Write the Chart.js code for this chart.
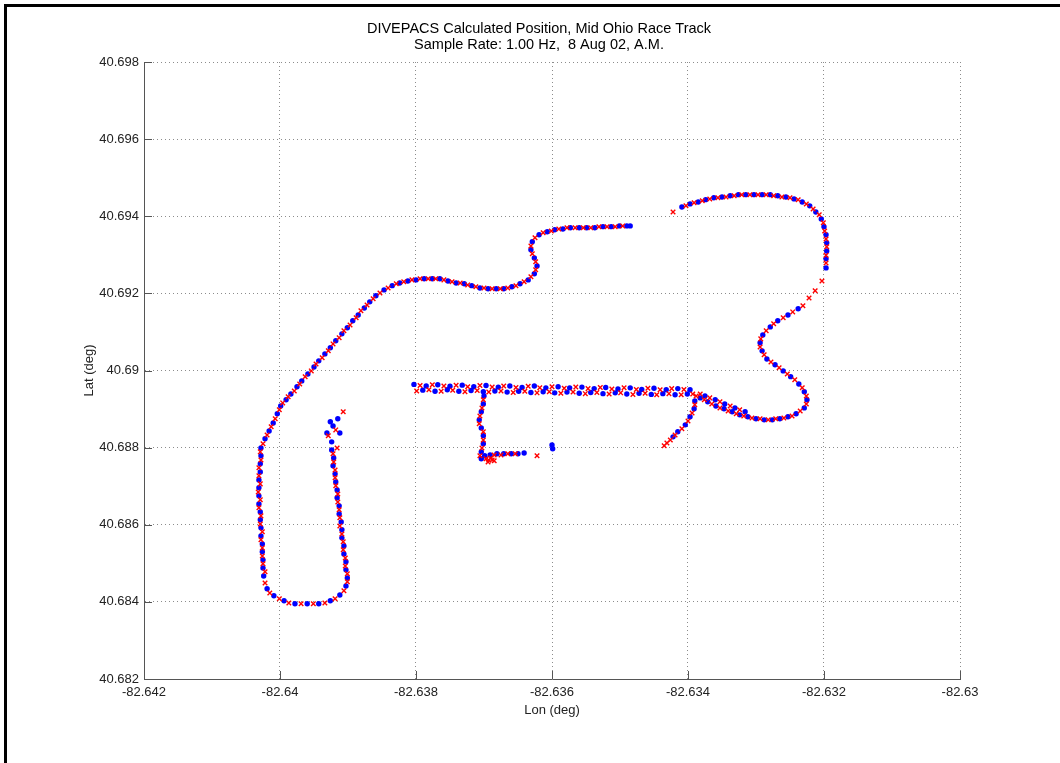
<!DOCTYPE html>
<html>
<head>
<meta charset="utf-8">
<title>DIVEPACS Calculated Position</title>
<script src="https://cdn.jsdelivr.net/npm/chart.js@4.4.1/dist/chart.umd.min.js"></script>
<style>
  html, body { margin: 0; padding: 0; background: #fff; }
  canvas { display: block; }
</style>
</head>
<body>
<canvas id="track" width="1060" height="763"></canvas>
<script>
// Titles and axis labels
const titleLines = ["DIVEPACS Calculated Position, Mid Ohio Race Track", "Sample Rate: 1.00 Hz,  8 Aug 02, A.M."];
const xLabel = "Lon (deg)";
const yLabel = "Lat (deg)";

// Tick values
const lonTicks = [-82.642, -82.64, -82.638, -82.636, -82.634, -82.632, -82.63];
const latTicks = [40.682, 40.684, 40.686, 40.688, 40.69, 40.692, 40.694, 40.696, 40.698];

// Blue fixes [lon, lat]
const blueWest = [
  [-82.63926, 40.68867], [-82.63922, 40.68856], [-82.63915, 40.68875], [-82.63931, 40.68838], [-82.63912, 40.68838], [-82.63924, 40.68815],
  [-82.63924, 40.68794], [-82.63921, 40.68773], [-82.63922, 40.68753], [-82.63919, 40.68732], [-82.63918, 40.68711], [-82.63916, 40.68690],
  [-82.63916, 40.68670], [-82.63913, 40.68649], [-82.63913, 40.68628], [-82.63910, 40.68607], [-82.63909, 40.68587], [-82.63909, 40.68566],
  [-82.63906, 40.68545], [-82.63906, 40.68524], [-82.63903, 40.68504], [-82.63903, 40.68483], [-82.63901, 40.68462],
  [-82.63903, 40.68441], [-82.63912, 40.68418], [-82.63926, 40.68403], [-82.63943, 40.68395], [-82.63960, 40.68395], [-82.63978, 40.68395],
  [-82.63994, 40.68403], [-82.64009, 40.68416], [-82.64019, 40.68434],
  [-82.64024, 40.68467], [-82.64025, 40.68488], [-82.64025, 40.68509], [-82.64026, 40.68530], [-82.64026, 40.68550], [-82.64028, 40.68571],
  [-82.64028, 40.68592], [-82.64029, 40.68613], [-82.64029, 40.68633], [-82.64031, 40.68654], [-82.64031, 40.68675], [-82.64031, 40.68696],
  [-82.64031, 40.68716], [-82.64029, 40.68737], [-82.64029, 40.68758], [-82.64028, 40.68779], [-82.64028, 40.68799],
  [-82.64022, 40.68823], [-82.64016, 40.68843], [-82.64010, 40.68864], [-82.64004, 40.68888], [-82.63999, 40.68908], [-82.63991, 40.68924],
  [-82.63984, 40.68939], [-82.63975, 40.68958], [-82.63968, 40.68973], [-82.63959, 40.68991], [-82.63950, 40.69009], [-82.63943, 40.69025],
  [-82.63934, 40.69043], [-82.63926, 40.69059], [-82.63918, 40.69077], [-82.63909, 40.69095], [-82.63901, 40.69111], [-82.63893, 40.69129],
  [-82.63885, 40.69144], [-82.63876, 40.69162], [-82.63868, 40.69178], [-82.63859, 40.69194], [-82.63847, 40.69209], [-82.63835, 40.69220],
  [-82.63824, 40.69227], [-82.63812, 40.69232], [-82.63800, 40.69235], [-82.63788, 40.69238], [-82.63776, 40.69238], [-82.63765, 40.69238],
  [-82.63753, 40.69232], [-82.63741, 40.69227], [-82.63729, 40.69225], [-82.63718, 40.69220], [-82.63706, 40.69214], [-82.63694, 40.69212],
  [-82.63682, 40.69212], [-82.63671, 40.69212], [-82.63659, 40.69217], [-82.63647, 40.69225], [-82.63635, 40.69235], [-82.63626, 40.69251],
  [-82.63622, 40.69271], [-82.63626, 40.69292], [-82.63631, 40.69313], [-82.63629, 40.69334], [-82.63619, 40.69352], [-82.63607, 40.69360],
  [-82.63596, 40.69365], [-82.63584, 40.69367], [-82.63573, 40.69370], [-82.63560, 40.69370], [-82.63549, 40.69370], [-82.63537, 40.69370],
  [-82.63525, 40.69373], [-82.63513, 40.69373], [-82.63501, 40.69375], [-82.63490, 40.69375], [-82.63485, 40.69375]
];
const blueEast = [
  [-82.63409, 40.69424], [-82.63397, 40.69432], [-82.63385, 40.69437], [-82.63374, 40.69443], [-82.63362, 40.69448], [-82.63350, 40.69450],
  [-82.63338, 40.69453], [-82.63326, 40.69456], [-82.63315, 40.69456], [-82.63303, 40.69456], [-82.63291, 40.69456], [-82.63279, 40.69456],
  [-82.63268, 40.69453], [-82.63256, 40.69450], [-82.63244, 40.69445], [-82.63232, 40.69437], [-82.63221, 40.69427], [-82.63212, 40.69411],
  [-82.63204, 40.69393], [-82.63200, 40.69373], [-82.63197, 40.69352], [-82.63196, 40.69331], [-82.63196, 40.69310], [-82.63197, 40.69290],
  [-82.63197, 40.69266],
  [-82.63238, 40.69160], [-82.63253, 40.69144], [-82.63268, 40.69129], [-82.63279, 40.69113], [-82.63290, 40.69092], [-82.63294, 40.69072],
  [-82.63291, 40.69051], [-82.63284, 40.69030], [-82.63272, 40.69015], [-82.63260, 40.68999], [-82.63249, 40.68984], [-82.63237, 40.68965],
  [-82.63229, 40.68945], [-82.63225, 40.68924], [-82.63229, 40.68903], [-82.63241, 40.68888], [-82.63253, 40.68880], [-82.63265, 40.68875],
  [-82.63276, 40.68872], [-82.63288, 40.68872], [-82.63300, 40.68875], [-82.63312, 40.68880], [-82.63324, 40.68885], [-82.63335, 40.68893],
  [-82.63347, 40.68901], [-82.63359, 40.68908], [-82.63371, 40.68919], [-82.63382, 40.68929],
  [-82.63375, 40.68934], [-82.63360, 40.68924], [-82.63346, 40.68913], [-82.63331, 40.68903], [-82.63316, 40.68893]
];
const blueStraight = [
  [-82.63803, 40.68964], [-82.63785, 40.68960], [-82.63768, 40.68963], [-82.63750, 40.68959], [-82.63732, 40.68962], [-82.63715, 40.68958],
  [-82.63697, 40.68961], [-82.63679, 40.68957], [-82.63662, 40.68960], [-82.63644, 40.68956], [-82.63626, 40.68960], [-82.63609, 40.68955],
  [-82.63591, 40.68958], [-82.63574, 40.68955], [-82.63556, 40.68957], [-82.63538, 40.68953], [-82.63521, 40.68956], [-82.63503, 40.68952],
  [-82.63485, 40.68955], [-82.63468, 40.68951], [-82.63450, 40.68954], [-82.63432, 40.68950], [-82.63415, 40.68953], [-82.63397, 40.68950],
  [-82.63790, 40.68949], [-82.63772, 40.68946], [-82.63754, 40.68950], [-82.63737, 40.68946], [-82.63719, 40.68948], [-82.63701, 40.68945],
  [-82.63684, 40.68947], [-82.63666, 40.68944], [-82.63649, 40.68946], [-82.63631, 40.68943], [-82.63613, 40.68945], [-82.63596, 40.68942],
  [-82.63578, 40.68944], [-82.63560, 40.68941], [-82.63543, 40.68943], [-82.63525, 40.68940], [-82.63507, 40.68942], [-82.63490, 40.68939],
  [-82.63472, 40.68941], [-82.63454, 40.68938], [-82.63437, 40.68940], [-82.63419, 40.68937], [-82.63401, 40.68939],
  [-82.63700, 40.68934], [-82.63701, 40.68913], [-82.63704, 40.68893], [-82.63707, 40.68872], [-82.63704, 40.68851], [-82.63701, 40.68831],
  [-82.63701, 40.68810], [-82.63704, 40.68789], [-82.63704, 40.68771], [-82.63699, 40.68779],
  [-82.63691, 40.68781], [-82.63681, 40.68784], [-82.63671, 40.68784], [-82.63660, 40.68784], [-82.63650, 40.68784], [-82.63641, 40.68786],
  [-82.63600, 40.68807], [-82.63599, 40.68797],
  [-82.63390, 40.68921], [-82.63391, 40.68901], [-82.63397, 40.68880], [-82.63404, 40.68859], [-82.63415, 40.68841], [-82.63422, 40.68828]
];

// Red fixes [lon, lat]
const redWest = [
  [-82.63907, 40.68893], [-82.63929, 40.68831], [-82.63918, 40.68846], [-82.63916, 40.68799],
  [-82.63922, 40.68784], [-82.63921, 40.68763], [-82.63919, 40.68742], [-82.63919, 40.68722], [-82.63918, 40.68701], [-82.63915, 40.68680],
  [-82.63915, 40.68659], [-82.63913, 40.68639], [-82.63912, 40.68618], [-82.63912, 40.68597], [-82.63909, 40.68576], [-82.63907, 40.68556],
  [-82.63907, 40.68535], [-82.63904, 40.68514], [-82.63904, 40.68493], [-82.63901, 40.68473], [-82.63901, 40.68452],
  [-82.63906, 40.68429], [-82.63919, 40.68408], [-82.63934, 40.68397], [-82.63951, 40.68395], [-82.63969, 40.68395], [-82.63987, 40.68397],
  [-82.64001, 40.68408], [-82.64015, 40.68423], [-82.64022, 40.68449],
  [-82.64022, 40.68478], [-82.64025, 40.68499], [-82.64026, 40.68519], [-82.64026, 40.68540], [-82.64028, 40.68561], [-82.64026, 40.68582],
  [-82.64029, 40.68602], [-82.64028, 40.68623], [-82.64031, 40.68644], [-82.64029, 40.68665], [-82.64032, 40.68685], [-82.64029, 40.68706],
  [-82.64031, 40.68727], [-82.64031, 40.68748], [-82.64028, 40.68768], [-82.64029, 40.68789], [-82.64025, 40.68810],
  [-82.64019, 40.68833], [-82.64013, 40.68854], [-82.64007, 40.68875], [-82.64001, 40.68898], [-82.63996, 40.68916], [-82.63988, 40.68932],
  [-82.63979, 40.68947], [-82.63971, 40.68965], [-82.63963, 40.68984], [-82.63954, 40.68999], [-82.63947, 40.69017], [-82.63938, 40.69033],
  [-82.63929, 40.69051], [-82.63922, 40.69069], [-82.63913, 40.69085], [-82.63906, 40.69103], [-82.63897, 40.69118], [-82.63888, 40.69137],
  [-82.63881, 40.69155], [-82.63872, 40.69170], [-82.63863, 40.69186], [-82.63853, 40.69201], [-82.63841, 40.69214], [-82.63829, 40.69225],
  [-82.63818, 40.69230], [-82.63806, 40.69235], [-82.63794, 40.69238], [-82.63782, 40.69238], [-82.63771, 40.69238], [-82.63759, 40.69235],
  [-82.63747, 40.69230], [-82.63735, 40.69227], [-82.63724, 40.69222], [-82.63712, 40.69217], [-82.63700, 40.69214], [-82.63688, 40.69212],
  [-82.63676, 40.69212], [-82.63665, 40.69214], [-82.63653, 40.69220], [-82.63641, 40.69230], [-82.63631, 40.69243], [-82.63624, 40.69261],
  [-82.63624, 40.69282], [-82.63629, 40.69303], [-82.63631, 40.69323], [-82.63625, 40.69344], [-82.63613, 40.69357], [-82.63601, 40.69362],
  [-82.63590, 40.69367], [-82.63578, 40.69370], [-82.63566, 40.69370], [-82.63554, 40.69370], [-82.63543, 40.69370], [-82.63531, 40.69373],
  [-82.63519, 40.69373], [-82.63507, 40.69373], [-82.63496, 40.69375]
];
const redEast = [
  [-82.63422, 40.69411], [-82.63403, 40.69427], [-82.63391, 40.69435], [-82.63379, 40.69440], [-82.63368, 40.69445], [-82.63356, 40.69448],
  [-82.63344, 40.69450], [-82.63332, 40.69453], [-82.63321, 40.69456], [-82.63309, 40.69456], [-82.63297, 40.69456], [-82.63285, 40.69456],
  [-82.63274, 40.69453], [-82.63262, 40.69450], [-82.63250, 40.69448], [-82.63238, 40.69443], [-82.63226, 40.69432], [-82.63216, 40.69419],
  [-82.63207, 40.69404], [-82.63201, 40.69383], [-82.63199, 40.69362], [-82.63197, 40.69341], [-82.63196, 40.69321], [-82.63197, 40.69299],
  [-82.63197, 40.69279],
  [-82.63203, 40.69232], [-82.63213, 40.69207], [-82.63222, 40.69188], [-82.63231, 40.69168],
  [-82.63246, 40.69152], [-82.63260, 40.69137], [-82.63274, 40.69121], [-82.63285, 40.69103], [-82.63293, 40.69082], [-82.63294, 40.69061],
  [-82.63288, 40.69041], [-82.63278, 40.69022], [-82.63266, 40.69007], [-82.63254, 40.68991], [-82.63243, 40.68976], [-82.63232, 40.68955],
  [-82.63226, 40.68934], [-82.63226, 40.68913], [-82.63235, 40.68895], [-82.63247, 40.68882], [-82.63259, 40.68877], [-82.63271, 40.68875],
  [-82.63282, 40.68872], [-82.63294, 40.68875], [-82.63306, 40.68877], [-82.63318, 40.68882], [-82.63329, 40.68888], [-82.63341, 40.68895],
  [-82.63353, 40.68903], [-82.63365, 40.68913], [-82.63376, 40.68924], [-82.63388, 40.68934],
  [-82.63382, 40.68939], [-82.63368, 40.68929], [-82.63353, 40.68919], [-82.63338, 40.68908], [-82.63324, 40.68898]
];
const redStraight = [
  [-82.63794, 40.68961], [-82.63776, 40.68963], [-82.63759, 40.68960], [-82.63741, 40.68962], [-82.63724, 40.68958], [-82.63706, 40.68961],
  [-82.63688, 40.68957], [-82.63671, 40.68960], [-82.63653, 40.68956], [-82.63635, 40.68959], [-82.63618, 40.68955], [-82.63600, 40.68958],
  [-82.63582, 40.68954], [-82.63565, 40.68957], [-82.63547, 40.68953], [-82.63529, 40.68956], [-82.63512, 40.68952], [-82.63494, 40.68955],
  [-82.63476, 40.68951], [-82.63459, 40.68954], [-82.63441, 40.68950], [-82.63424, 40.68953], [-82.63406, 40.68951],
  [-82.63799, 40.68947], [-82.63781, 40.68950], [-82.63763, 40.68946], [-82.63746, 40.68949], [-82.63728, 40.68945], [-82.63710, 40.68948],
  [-82.63693, 40.68944], [-82.63675, 40.68947], [-82.63657, 40.68943], [-82.63640, 40.68946], [-82.63622, 40.68942], [-82.63604, 40.68945],
  [-82.63587, 40.68941], [-82.63569, 40.68944], [-82.63551, 40.68940], [-82.63534, 40.68943], [-82.63516, 40.68939], [-82.63499, 40.68942],
  [-82.63481, 40.68938], [-82.63463, 40.68941], [-82.63446, 40.68937], [-82.63428, 40.68940], [-82.63410, 40.68937], [-82.63393, 40.68939],
  [-82.63701, 40.68924], [-82.63703, 40.68903], [-82.63706, 40.68882], [-82.63707, 40.68862], [-82.63701, 40.68841], [-82.63701, 40.68820],
  [-82.63703, 40.68799], [-82.63706, 40.68779],
  [-82.63697, 40.68771], [-82.63693, 40.68768], [-82.63688, 40.68768], [-82.63694, 40.68763], [-82.63690, 40.68773], [-82.63685, 40.68766],
  [-82.63685, 40.68781], [-82.63675, 40.68781], [-82.63665, 40.68784], [-82.63654, 40.68784],
  [-82.63622, 40.68779],
  [-82.63390, 40.68911], [-82.63394, 40.68890], [-82.63400, 40.68869], [-82.63409, 40.68849], [-82.63419, 40.68833], [-82.63426, 40.68820],
  [-82.63431, 40.68812], [-82.63435, 40.68805]
];

const toPoints = (list) => list.map(([lon, lat]) => ({ x: lon, y: lat }));
const fmt = (v) => String(parseFloat(Number(v).toFixed(3)));
const FONT = '"Liberation Sans", Arial, Helvetica, sans-serif';

// title, frame and inward tick marks
const decorations = {
  id: "decorations",
  afterDraw(chart) {
    const { ctx, chartArea: a, scales } = chart;
    ctx.save();
    ctx.strokeStyle = "#555";
    ctx.lineWidth = 1;
    ctx.beginPath();
    lonTicks.forEach((v) => {
      const px = Math.round(scales.x.getPixelForValue(v)) + 0.5;
      ctx.moveTo(px, a.bottom);
      ctx.lineTo(px, a.bottom - 8);
    });
    latTicks.forEach((v) => {
      const py = Math.round(scales.y.getPixelForValue(v)) + 0.5;
      ctx.moveTo(a.left, py);
      ctx.lineTo(a.left + 8, py);
    });
    ctx.stroke();

    ctx.fillStyle = "#000";
    ctx.fillRect(4, 4, chart.width - 4, 3);
    ctx.fillRect(4, 4, 3, chart.height - 4);

    ctx.font = "14.5px " + FONT;
    ctx.textAlign = "center";
    ctx.textBaseline = "middle";
    ctx.fillText(titleLines[0], 539, 29);
    ctx.fillText(titleLines[1], 539, 45);
    ctx.restore();
  }
};

new Chart(document.getElementById("track"), {
  type: "scatter",
  data: {
    datasets: [
      {
        label: "red",
        data: toPoints([...redWest, ...redEast, ...redStraight]),
        pointStyle: "crossRot",
        pointRadius: 3.2,
        borderColor: "#ff0000",
        backgroundColor: "#ff0000",
        borderWidth: 1.4
      },
      {
        label: "blue",
        data: toPoints([...blueWest, ...blueEast, ...blueStraight]),
        pointStyle: "circle",
        pointRadius: 2.7,
        borderWidth: 0,
        backgroundColor: "#0000ff",
        borderColor: "#0000ff"
      }
    ]
  },
  options: {
    responsive: false,
    animation: false,
    events: [],
    layout: { padding: { top: 62, right: 100, bottom: 0, left: 0 } },
    plugins: { legend: { display: false }, tooltip: { enabled: false }, title: { display: false } },
    scales: {
      x: {
        type: "linear",
        min: -82.642,
        max: -82.63,
        afterBuildTicks: (s) => { s.ticks = lonTicks.map((v) => ({ value: v })); },
        afterFit: (s) => { s.height = 84; },
        ticks: { callback: (v) => fmt(v), color: "#222", padding: 6, maxRotation: 0, autoSkip: false, font: { size: 13, family: FONT } },
        grid: { color: "#8c8c8c", drawTicks: false, lineWidth: 1 },
        border: { color: "#555", width: 1, dash: [1, 3] },
        title: { display: true, text: xLabel, color: "#222", font: { size: 13, family: FONT }, padding: { top: 0, bottom: 45 } }
      },
      y: {
        type: "linear",
        min: 40.682,
        max: 40.698,
        afterBuildTicks: (s) => { s.ticks = latTicks.map((v) => ({ value: v })); },
        afterFit: (s) => { s.width = 144; },
        ticks: { callback: (v) => fmt(v), color: "#222", padding: 5, autoSkip: false, font: { size: 13, family: FONT } },
        grid: { color: "#8c8c8c", drawTicks: false, lineWidth: 1 },
        border: { color: "#555", width: 1, dash: [1, 3] },
        title: { display: true, text: yLabel, color: "#222", font: { size: 13, family: FONT }, padding: { top: 82, bottom: 0 } }
      }
    }
  },
  plugins: [decorations]
});
</script>
</body>
</html>
